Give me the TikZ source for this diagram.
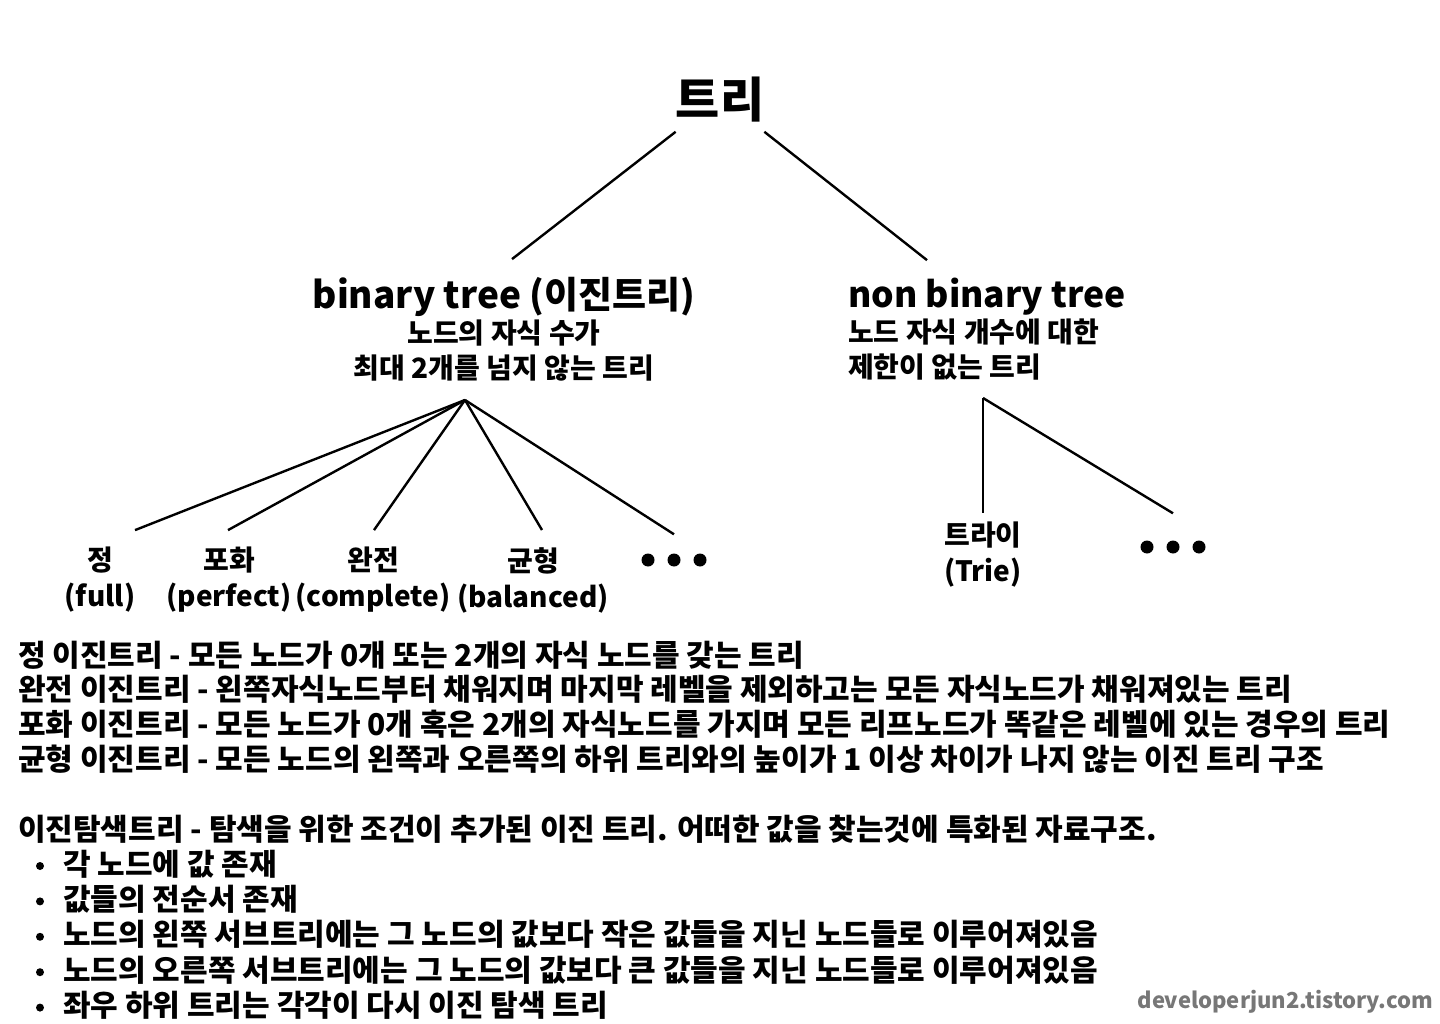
\documentclass[tikz,border=0pt]{standalone}
\usepackage{fontspec}
\setmainfont{Noto Sans CJK KR}
\usetikzlibrary{positioning}

\definecolor{markgray}{HTML}{777777}

\begin{document}
\begin{tikzpicture}[x=1pt, y=-1pt,
    edge/.style={line width=2.4pt},
    head/.style={font=\bfseries\fontsize{37}{40}\selectfont, inner sep=0pt},
    sub/.style={font=\bfseries\fontsize{28}{35}\selectfont, inner sep=0pt},
    kid/.style={font=\bfseries\fontsize{28}{36}\selectfont, align=center, inner sep=0pt},
    desc/.style={font=\bfseries\fontsize{30}{34}\selectfont, inner sep=0pt, text height=25.5pt, text depth=7.5pt},
]
\useasboundingbox[fill=white] (0,0) rectangle (1440,1024);

% root and the two kinds of trees
\node[font=\bfseries\fontsize{48}{48}\selectfont, inner sep=0pt] (root) at (720,100) {트리};
\node[head] (bt) at (504,297) {binary tree (이진트리)};
\node[sub, align=center, below=3pt of bt] (btd) {노드의 자식 수가\\최대 2개를 넘지 않는 트리};
\node[head, anchor=west, font=\bfseries\fontsize{35.5}{40}\selectfont] (nbt) at (848,297) {non binary tree};
\node[sub, align=left, below=3pt of nbt.south west, anchor=north west] (nbtd) {노드 자식 개수에 대한\\제한이 없는 트리};

\draw[edge] ([yshift=-9pt]root.south west) -- ([xshift=8pt,yshift=18pt]bt.north);
\draw[edge] ([yshift=-9pt]root.south east) -- ([xshift=79pt,yshift=18pt]nbt.north west);

% kinds of binary trees
\coordinate (bthub) at (465,400);
\node[kid] (full) at (100,580) {정\\(full)};
\node[kid] (perfect) at (229,580) {포화\\(perfect)};
\node[kid] (complete) at (373,580) {완전\\(complete)};
\node[kid] (balanced) at (533,580) {균형\\(balanced)};
\node[inner sep=0pt, minimum width=66pt, minimum height=13pt] (bdots) at (674,560) {};
\foreach \dx in {-26,0,26}
    \fill ([xshift=\dx pt]bdots.center) circle (6.5pt);

\draw[edge] (bthub) -- ([xshift=35pt,yshift=17pt]full.north);
\draw[edge] (bthub) -- ([xshift=-1pt,yshift=17pt]perfect.north);
\draw[edge] (bthub) -- ([xshift=1pt,yshift=17pt]complete.north);
\draw[edge] (bthub) -- ([xshift=9pt,yshift=17pt]balanced.north);
\draw[edge] (bthub) -- ([yshift=19pt]bdots.north);

% non binary trees
\coordinate (nbhub) at (983,398);
\node[kid] (trie) at (983,555) {트라이\\(Trie)};
\node[inner sep=0pt, minimum width=66pt, minimum height=13pt] (ndots) at (1173,547) {};
\foreach \dx in {-26,0,26}
    \fill ([xshift=\dx pt]ndots.center) circle (6.5pt);

\draw[edge] (nbhub) -- ([yshift=9pt]trie.north);
\draw[edge] (nbhub) -- ([yshift=27pt]ndots.north);

% definitions
\node[desc, anchor=west] (d1) at (18,657) {정 이진트리 - 모든 노드가 0개 또는 2개의 자식 노드를 갖는 트리};
\node[desc, below=1.5pt of d1.south west, anchor=north west] (d2) {완전 이진트리 - 왼쪽자식노드부터 채워지며 마지막 레벨을 제외하고는 모든 자식노드가 채워져있는 트리};
\node[desc, below=1.5pt of d2.south west, anchor=north west] (d3) {포화 이진트리 - 모든 노드가 0개 혹은 2개의 자식노드를 가지며 모든 리프노드가 똑같은 레벨에 있는 경우의 트리};
\node[desc, below=1.5pt of d3.south west, anchor=north west] (d4) {균형 이진트리 - 모든 노드의 왼쪽과 오른쪽의 하위 트리와의 높이가 1 이상 차이가 나지 않는 이진 트리 구조};

\node[desc, anchor=west] (bst) at (18,831) {이진탐색트리 - 탐색을 위한 조건이 추가된 이진 트리. 어떠한 값을 찾는것에 특화된 자료구조.};
\node[desc, anchor=west] (p1) at (63,866) {각 노드에 값 존재};
\node[desc, below=2pt of p1.south west, anchor=north west] (p2) {값들의 전순서 존재};
\node[desc, below=2pt of p2.south west, anchor=north west] (p3) {노드의 왼쪽 서브트리에는 그 노드의 값보다 작은 값들을 지닌 노드들로 이루어져있음};
\node[desc, below=2pt of p3.south west, anchor=north west] (p4) {노드의 오른쪽 서브트리에는 그 노드의 값보다 큰 값들을 지닌 노드들로 이루어져있음};
\node[desc, below=2pt of p4.south west, anchor=north west] (p5) {좌우 하위 트리는 각각이 다시 이진 탐색 트리};
\foreach \p in {p1,p2,p3,p4,p5}
    \fill ([xshift=-23pt]\p.west) circle (4pt);

\node[font=\bfseries\fontsize{22}{22}\selectfont, text=markgray, anchor=east, inner sep=0pt] (mark) at (1433,1002) {developerjun2.tistory.com};
\end{tikzpicture}
\end{document}
